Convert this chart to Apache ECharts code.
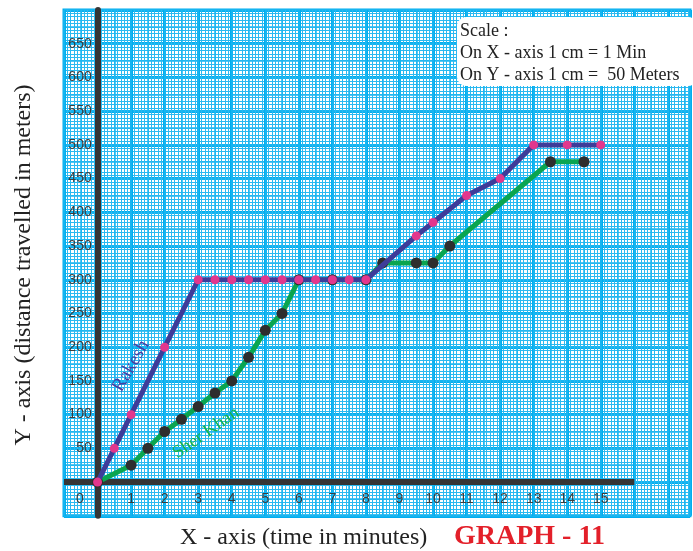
<!DOCTYPE html>
<html><head><meta charset="utf-8">
<script src="https://cdn.jsdelivr.net/npm/echarts@6/dist/echarts.min.js"></script>
<style>html,body{margin:0;padding:0;background:#fff}#c{width:693px;height:551px}</style>
</head><body><div id="c"></div>
<script>
// Data
const rakeshTime = [0, 0.5, 1, 2, 3, 3.5, 4, 4.5, 5, 5.5, 6, 6.5, 7, 7.5, 8, 9.5, 10, 11, 12, 13, 14, 15];
const rakeshDist = [0, 50, 100, 200, 300, 300, 300, 300, 300, 300, 300, 300, 300, 300, 300, 365, 385, 425, 450, 500, 500, 500];
const sherTime = [0, 1, 1.5, 2, 2.5, 3, 3.5, 4, 4.5, 5, 5.5, 6, 7, 8, 8.5, 9.5, 10, 10.5, 13.5, 14.5];
const sherDist = [0, 25, 50, 75, 93, 112, 132, 150, 185, 225, 250, 300, 300, 300, 325, 325, 325, 350, 475, 475];
const xTickLabels = [1, 2, 3, 4, 5, 6, 7, 8, 9, 10, 11, 12, 13, 14, 15];
const yTickLabels = [50, 100, 150, 200, 250, 300, 350, 400, 450, 500, 550, 600, 650];
const xAxisLineSpan = [-1, 16];
const scaleLines = ['Scale :', 'On X - axis 1 cm = 1 Min', 'On Y - axis 1 cm =  50 Meters'];

const serif = "'Liberation Serif', 'Times New Roman', serif";
const sans = "'Liberation Sans', Arial, sans-serif";
const paperMajor = '#00aeef';
const paperMid = '#1cb6f0';
const paperMinor = '#2bb9f0';

const zip = (a, b) => a.map((v, i) => [v, b[i]]);

const chart = echarts.init(document.getElementById('c'));
const X_MIN = -1, X_MAX = 17.66, Y_MIN = -50, Y_MAX = 700;
const unitX = 33.7;

chart.setOption({
  animation: false,
  backgroundColor: '#fff',
  grid: { left: 64, top: 10, right: 0, bottom: 35.2, show: true, backgroundColor: '#fff', borderColor: paperMajor, borderWidth: 3 },
  xAxis: [
    {
      type: 'value', min: X_MIN, max: X_MAX, interval: 1, position: 'bottom', offset: -unitX * 1.012,
      axisLine: { show: false, onZero: false },
      axisTick: { show: false },
      axisLabel: {
        margin: 10, color: '#3c3c3c', fontFamily: sans, fontSize: 14,
        formatter: v => xTickLabels.includes(v) ? String(v) : ''
      },
      splitLine: { show: true, lineStyle: { color: paperMajor, width: 3 } },
      minorTick: { show: false, splitNumber: 10 },
      minorSplitLine: { show: true, lineStyle: { color: paperMinor, width: 1 } }
    },
    {
      type: 'value', min: X_MIN, max: X_MAX, interval: 0.5, position: 'top',
      axisLine: { show: false, onZero: false }, axisTick: { show: false }, axisLabel: { show: false },
      splitLine: { show: true, lineStyle: { color: paperMid, width: 1.5 } }
    }
  ],
  yAxis: [
    {
      type: 'value', min: Y_MIN, max: Y_MAX, interval: 50, position: 'left', offset: -unitX,
      axisLine: { show: true, onZero: false, lineStyle: { color: '#353535', width: 6 } },
      axisTick: { show: false },
      axisLabel: {
        margin: 6, color: '#3c3c3c', fontFamily: sans, fontSize: 14,
        formatter: v => yTickLabels.includes(v) ? String(v) : ''
      },
      splitLine: { show: true, lineStyle: { color: paperMajor, width: 3 } },
      minorTick: { show: false, splitNumber: 10 },
      minorSplitLine: { show: true, lineStyle: { color: paperMinor, width: 1 } }
    },
    {
      type: 'value', min: Y_MIN, max: Y_MAX, interval: 25, position: 'right',
      axisLine: { show: false, onZero: false }, axisTick: { show: false }, axisLabel: { show: false },
      splitLine: { show: true, lineStyle: { color: paperMid, width: 1.5 } }
    }
  ],
  series: [
    {
      type: 'line', name: 'x-axis line', data: xAxisLineSpan.map(x => [x, 0]),
      symbol: 'none', lineStyle: { color: '#353535', width: 6 }, z: 1, silent: true
    },
    {
      type: 'line', name: 'Sher Khan', data: zip(sherTime, sherDist),
      symbol: 'circle', symbolSize: 11,
      itemStyle: { color: '#2e2e2e' },
      lineStyle: { color: '#0aa550', width: 5 }, z: 3
    },
    {
      type: 'line', name: 'Rakesh', data: zip(rakeshTime, rakeshDist),
      symbol: 'circle', symbolSize: 9,
      itemStyle: { color: '#e2378d' },
      lineStyle: { color: '#3e3c99', width: 5 }, z: 4
    }
  ],
  graphic: [
    { type: 'text', x: 80, y: 499, style: { text: '0', font: '14px ' + sans, fill: '#3c3c3c', align: 'center', verticalAlign: 'middle' }, z: 10 },
    { type: 'text', x: 24, y: 265, rotation: Math.PI / 2, style: { text: 'Y - axis (distance travelled in meters)', font: '24px ' + serif, fill: '#222', align: 'center', verticalAlign: 'middle' }, z: 10 },
    { type: 'text', x: 180, y: 538, style: { text: 'X - axis (time in minutes)', font: '24px ' + serif, fill: '#222', align: 'left', verticalAlign: 'middle' }, z: 10 },
    { type: 'text', x: 454, y: 537, style: { text: 'GRAPH - 11', font: 'bold 28px ' + serif, fill: '#e3202a', align: 'left', verticalAlign: 'middle' }, z: 10 },
    { type: 'rect', shape: { x: 457, y: 17, width: 240, height: 69, r: 9 }, style: { fill: '#fff' }, z: 10 },
    { type: 'text', x: 460, y: 31, style: { text: scaleLines[0], font: '18px ' + serif, fill: '#222', verticalAlign: 'middle' }, z: 11 },
    { type: 'text', x: 460, y: 53, style: { text: scaleLines[1], font: '18px ' + serif, fill: '#222', verticalAlign: 'middle' }, z: 11 },
    { type: 'text', x: 460, y: 75, style: { text: scaleLines[2], font: '18px ' + serif, fill: '#222', verticalAlign: 'middle' }, z: 11 },
    { type: 'text', x: 131, y: 366, rotation: 60 * Math.PI / 180, style: { text: 'Rakesh', font: '19px ' + serif, fill: '#463fa3', align: 'center', verticalAlign: 'middle' }, z: 10 },
    { type: 'text', x: 206, y: 433, rotation: 35 * Math.PI / 180, style: { text: 'Sher Khan', font: '18px ' + serif, fill: '#17b34a', align: 'center', verticalAlign: 'middle' }, z: 10 }
  ]
});
</script></body></html>
